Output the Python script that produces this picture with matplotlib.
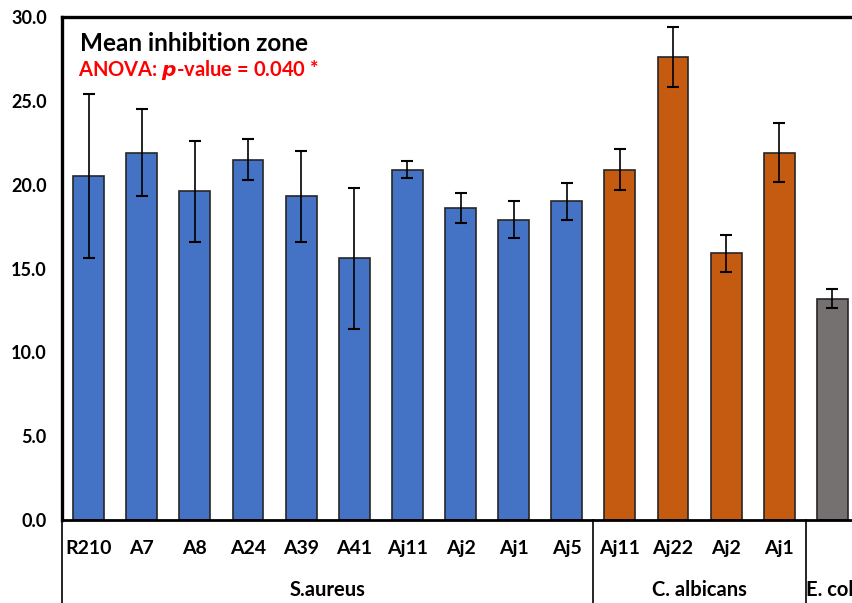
import matplotlib.pyplot as plt
import numpy as np

plt.rcParams['font.family'] = ['Lato', 'DejaVu Sans']

# 데이터
strains = ['R210', 'A7', 'A8', 'A24', 'A39', 'A41', 'Aj11', 'Aj2', 'Aj1', 'Aj5',
           'Aj11', 'Aj22', 'Aj2', 'Aj1', '']
means = [20.5, 21.9, 19.6, 21.5, 19.3, 15.6, 20.9, 18.6, 17.9, 19.0,
         20.9, 27.6, 15.9, 21.9, 13.2]
errors = [4.9, 2.6, 3.0, 1.25, 2.7, 4.2, 0.5, 0.9, 1.1, 1.1,
          1.2, 1.8, 1.1, 1.75, 0.55]
groups = ['S.aureus', 'C. albicans', 'E. coli']
group_sizes = [10, 4, 1]
group_colors = ['#4472C4', '#C55A11', '#767171']

colors = []
for c, n in zip(group_colors, group_sizes):
    colors += [c] * n

fig = plt.figure(figsize=(8.52, 6.03), dpi=100)
# 오른쪽은 원본처럼 잘려 보이도록 축을 그림 밖까지 확장
ax = fig.add_axes([62 / 852, 83 / 603, 797 / 852, 503 / 603])

x = np.arange(len(means))
ax.bar(x, means, width=0.58, color=colors, edgecolor='#262626', linewidth=1.2, zorder=2)
ax.errorbar(x, means, yerr=errors, fmt='none', ecolor='black', elinewidth=1.2,
            capsize=4.5, capthick=1.5, zorder=3)

ax.set_xlim(-0.5, len(means) - 0.5)
ax.set_ylim(0, 30)
ax.set_yticks(np.arange(0, 30.1, 5))
ax.set_yticklabels([f'{v:.1f}' for v in np.arange(0, 30.1, 5)], fontsize=13, fontweight='bold')
ax.tick_params(axis='y', length=0, pad=11)
ax.set_xticks([])

for s in ['left', 'top']:
    ax.spines[s].set_linewidth(2.4)
ax.spines['bottom'].set_linewidth(2)
ax.spines['right'].set_linewidth(2)

# 카테고리 라벨 (2단)
for i, lab in enumerate(strains):
    ax.text(i, -0.0557, lab, transform=ax.get_xaxis_transform(), ha='center', va='center',
            fontsize=14, fontweight='bold')

start = 0
bounds = [-0.5]
for g, n in zip(groups, group_sizes):
    center = start + (n - 1) / 2
    ax.text(center, -0.139, g, transform=ax.get_xaxis_transform(), ha='center', va='center',
            fontsize=14.5, fontweight='bold')
    start += n
    bounds.append(start - 0.5)

for b in bounds:
    ax.plot([b, b], [0, -0.25], transform=ax.get_xaxis_transform(), color='black',
            linewidth=1.2, clip_on=False)

ax.text(0.0226, 0.948, 'Mean inhibition zone', transform=ax.transAxes, ha='left', va='center',
        fontsize=17.5, fontweight='bold')
ax.text(0.0195, 0.895, 'ANOVA: $\\boldsymbol{p}$-value = 0.040 *', transform=ax.transAxes,
        ha='left', va='center', fontsize=14.5, fontweight='bold', color='#FF0000')

fig.savefig('out.png', dpi=100)
